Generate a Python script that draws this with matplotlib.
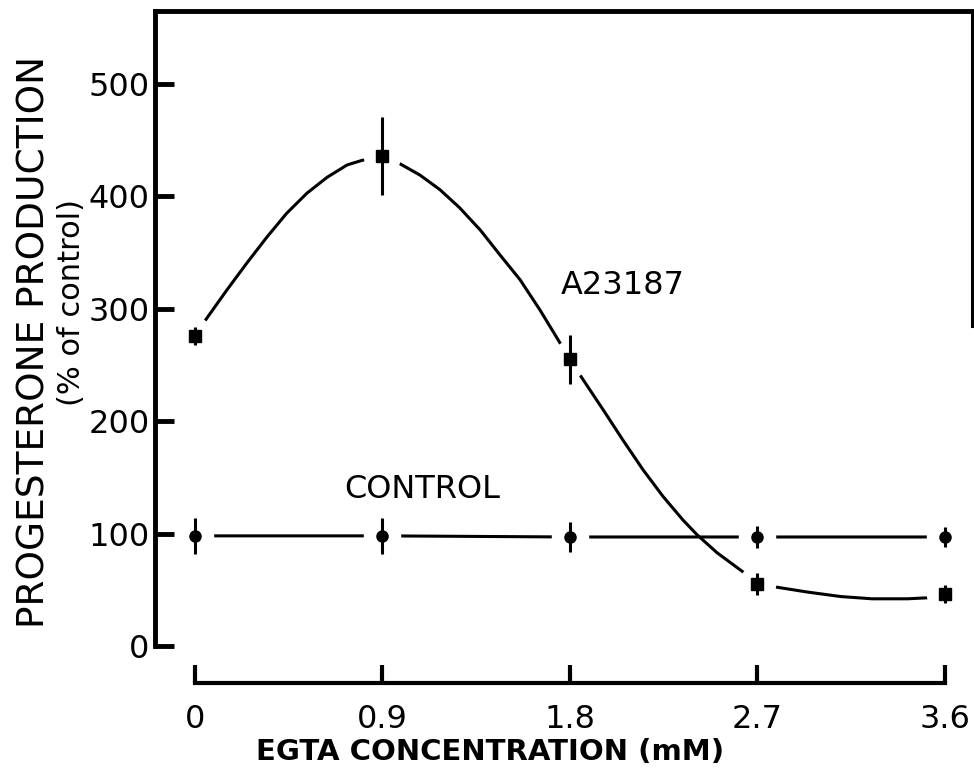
import matplotlib
matplotlib.use('Agg')
from matplotlib import pyplot as plt

# EGTA concentration (mM)
egta = [0, 0.9, 1.8, 2.7, 3.6]

# progesterone production, % of control
a23187 = [276, 436, 255, 55, 46]
a23187_err = [8, 35, 22, 10, 8]
control = [98, 98, 97, 97, 97]
control_err = [16, 16, 13, 10, 9]

# hand-drawn fit through the A23187 points
curve_x = [0.0, 0.058, 0.154, 0.25, 0.346, 0.44, 0.538, 0.634, 0.73, 0.80, 0.90,
           0.975, 1.08, 1.176, 1.27, 1.37, 1.464, 1.56, 1.656, 1.738, 1.80,
           1.863, 1.96, 2.055, 2.15, 2.247, 2.343, 2.41, 2.506, 2.63, 2.70,
           2.77, 2.94, 3.10, 3.25, 3.42, 3.53, 3.60]
curve_y = [276, 292, 317, 341, 364, 385, 403, 417, 428, 432, 436,
           430, 419, 406, 390, 370, 348, 326, 299, 274, 255,
           237, 210, 183, 157, 133, 112, 99, 83, 66, 58,
           53, 48, 44, 42, 42, 43, 44]

xtick_labels = ['0', '0.9', '1.8', '2.7', '3.6']
yticks = [0, 100, 200, 300, 400, 500]

plt.rcParams['font.family'] = ['DejaVu Sans']

fig = plt.figure(figsize=(9.74, 7.72), dpi=100)
ax = fig.add_axes([155 / 974, 1 - 646 / 772, (972 - 155) / 974, (646 - 11) / 772])

ax.plot(curve_x, curve_y, color='black', lw=2.2, solid_capstyle='butt', zorder=1)
ax.plot(egta, control, color='black', lw=2.2, zorder=1)

# white halos make the gaps round each point
ax.plot(egta, a23187, ls='none', marker='o', ms=27, mfc='white', mec='none', zorder=2)
ax.plot(egta, control, ls='none', marker='o', ms=27, mfc='white', mec='none', zorder=2)

ax.errorbar(egta, a23187, yerr=a23187_err, fmt='s', color='black', ms=8,
            elinewidth=2.2, capsize=0, zorder=3)
ax.errorbar(egta, control, yerr=control_err, fmt='o', color='black', ms=8,
            elinewidth=2.2, capsize=0, zorder=3)

ax.text(2.055, 321, 'A23187', fontsize=23, ha='center', va='center')
ax.text(1.09, 139, 'CONTROL', fontsize=23, ha='center', va='center')

ax.set_xlim(-0.192, 3.73)
ax.set_ylim(0, 565)

ax.spines['left'].set_linewidth(3.5)
ax.spines['top'].set_linewidth(3.5)
ax.spines['right'].set_linewidth(2.2)
ax.spines['right'].set_bounds(285, 565)
ax.spines['bottom'].set_linewidth(3.0)
ax.spines['bottom'].set_position(('outward', 26.5))
ax.spines['bottom'].set_bounds(0, 3.6)

ax.set_xticks(egta)
ax.set_xticklabels(xtick_labels)
ax.set_yticks(yticks)
ax.tick_params(axis='x', direction='in', length=13, width=3, labelsize=23, pad=15)
ax.tick_params(axis='y', direction='in', length=14, width=3.5, labelsize=23, pad=4)

fig.text(490 / 974, 1 - 752 / 772, 'EGTA CONCENTRATION (mM)', fontsize=21,
         fontweight='bold', ha='center', va='center')
fig.text(35 / 974, 1 - 342 / 772, 'PROGESTERONE PRODUCTION', rotation=90,
         fontsize=27, ha='center', va='center')
fig.text(72 / 974, 1 - 302 / 772, '(% of control)', rotation=90,
         fontsize=22, ha='center', va='center')

plt.savefig('out.png', dpi=100)
